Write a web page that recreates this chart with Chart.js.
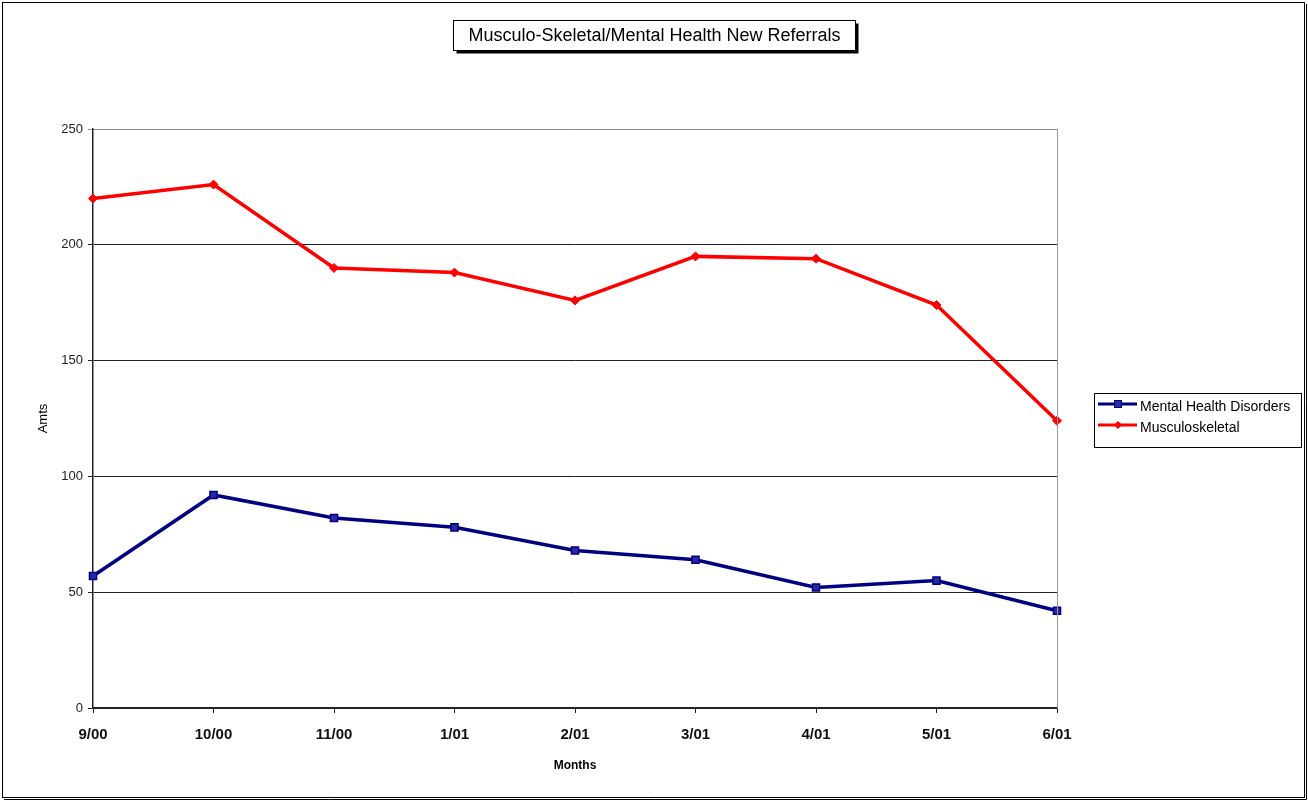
<!DOCTYPE html>
<html>
<head>
<meta charset="utf-8">
<title>Musculo-Skeletal/Mental Health New Referrals</title>
<script src="https://cdn.jsdelivr.net/npm/chart.js@4.4.1/dist/chart.umd.min.js"></script>
<style>
  html, body { margin: 0; padding: 0; background: #fff; }
  #wrap { width: 1308px; height: 801px; }
</style>
</head>
<body>
<div id="wrap"><canvas id="referralChart" width="1308" height="801"></canvas></div>
<script>
// Chart values
const chartTitle = 'Musculo-Skeletal/Mental Health New Referrals';
const months = ['9/00', '10/00', '11/00', '1/01', '2/01', '3/01', '4/01', '5/01', '6/01'];
const mentalHealth = [57, 92, 82, 78, 68, 64, 52, 55, 42];
const musculoskeletal = [220, 226, 190, 188, 176, 195, 194, 174, 124];
const yTicks = [0, 50, 100, 150, 200, 250];

const FONT = '"Liberation Sans", Arial, sans-serif';

// Draws the outer frame, the boxed title, the plot frame and the legend box
const decorations = {
  id: 'decorations',
  beforeDraw(chart) {
    const ctx = chart.ctx;
    ctx.save();
    ctx.fillStyle = '#fff';
    ctx.fillRect(0, 0, chart.width, chart.height);
    ctx.restore();
  },
  afterDraw(chart) {
    const ctx = chart.ctx;
    const area = chart.chartArea;
    ctx.save();

    // outer frame with a thin shadow
    ctx.strokeStyle = '#000';
    ctx.lineWidth = 1;
    ctx.strokeRect(2.5, 2.5, 1302, 795);
    ctx.beginPath();
    ctx.moveTo(4, 799.5);
    ctx.lineTo(1306.5, 799.5);
    ctx.lineTo(1306.5, 4);
    ctx.stroke();

    // right border of the plot area
    ctx.strokeStyle = '#9a9a9a';
    ctx.beginPath();
    ctx.moveTo(Math.round(area.right) + 0.5, area.top);
    ctx.lineTo(Math.round(area.right) + 0.5, area.bottom);
    ctx.stroke();

    // boxed title with drop shadow
    ctx.font = '18px ' + FONT;
    const tw = ctx.measureText(chartTitle).width;
    const bw = Math.max(tw + 12, 402), bh = 30;
    const bx = Math.round(654 - bw / 2) + 0.5, by = 20.5;
    ctx.fillStyle = '#000';
    ctx.fillRect(bx + 3, by + 3, bw, bh);
    ctx.fillStyle = '#fff';
    ctx.fillRect(bx, by, bw, bh);
    ctx.strokeStyle = '#000';
    ctx.strokeRect(bx, by, bw, bh);
    ctx.fillStyle = '#000';
    ctx.textAlign = 'center';
    ctx.textBaseline = 'middle';
    ctx.fillText(chartTitle, bx + bw / 2, by + bh / 2 + 1);

    // legend box built from the datasets
    const lx = 1094.5, ly = 393.5, lw = 207, lh = 54;
    ctx.fillStyle = '#fff';
    ctx.fillRect(lx, ly, lw, lh);
    ctx.strokeStyle = '#000';
    ctx.strokeRect(lx, ly, lw, lh);
    ctx.font = '14px ' + FONT;
    ctx.textAlign = 'left';
    chart.data.datasets.forEach((ds, i) => {
      const y = 404 + i * 21;
      ctx.strokeStyle = ds.borderColor;
      ctx.lineWidth = 3;
      ctx.beginPath();
      ctx.moveTo(1098, y);
      ctx.lineTo(1137, y);
      ctx.stroke();
      ctx.fillStyle = ds.pointBackgroundColor;
      ctx.strokeStyle = ds.borderColor;
      ctx.lineWidth = 1;
      if (ds.pointStyle === 'rect') {
        ctx.fillRect(1114, y - 4, 8, 8);
        ctx.strokeRect(1114.5, y - 3.5, 7, 7);
      } else {
        ctx.beginPath();
        ctx.moveTo(1118, y - 4);
        ctx.lineTo(1122, y);
        ctx.lineTo(1118, y + 4);
        ctx.lineTo(1114, y);
        ctx.closePath();
        ctx.fill();
      }
      ctx.fillStyle = '#000';
      ctx.fillText(ds.label, 1140, y + 3);
    });

    ctx.restore();
  }
};

const ctx = document.getElementById('referralChart').getContext('2d');
const referralChart = new Chart(ctx, {
  type: 'line',
  data: {
    labels: months,
    datasets: [
      {
        label: 'Mental Health Disorders',
        data: mentalHealth,
        borderColor: '#000080',
        backgroundColor: '#000080',
        pointBackgroundColor: '#2a2aa0',
        pointBorderColor: '#000080',
        borderWidth: 3.5,
        pointStyle: 'rect',
        pointRadius: 5,
        pointBorderWidth: 1.5,
        tension: 0
      },
      {
        label: 'Musculoskeletal',
        data: musculoskeletal,
        borderColor: '#ff0000',
        backgroundColor: '#ff0000',
        pointBackgroundColor: '#ff0000',
        pointBorderColor: '#ff0000',
        borderWidth: 3.5,
        pointStyle: 'rectRot',
        pointRadius: 4.5,
        pointBorderWidth: 1,
        tension: 0
      }
    ]
  },
  options: {
    responsive: false,
    animation: false,
    devicePixelRatio: 1,
    layout: { padding: { left: 0, top: 129, right: 251, bottom: 0 } },
    plugins: {
      legend: { display: false },
      title: { display: false },
      tooltip: { enabled: false }
    },
    scales: {
      x: {
        offset: false,
        grid: { drawOnChartArea: false, drawTicks: true, tickLength: 5, color: '#222' },
        border: { color: '#222', width: 1.5 },
        ticks: {
          color: '#111',
          padding: 13,
          maxRotation: 0,
          autoSkip: false,
          font: { family: FONT, size: 15, weight: 'bold' }
        },
        title: {
          display: true,
          text: 'Months',
          color: '#000',
          padding: { top: 0, bottom: 28 },
          font: { family: FONT, size: 12, weight: 'bold' }
        },
        afterFit(scale) { scale.height = 93; }
      },
      y: {
        min: 0,
        max: 250,
        afterBuildTicks(scale) { scale.ticks = yTicks.map(v => ({ value: v })); },
        grid: {
          color: c => (c.tick && c.tick.value === 250 ? '#888' : '#222'),
          tickLength: 5,
          lineWidth: 1
        },
        border: { color: '#222', width: 1.5 },
        ticks: {
          color: '#222',
          padding: 5,
          font: { family: FONT, size: 13 }
        },
        title: {
          display: true,
          text: 'Amts',
          color: '#000',
          padding: { top: 36, bottom: 0 },
          font: { family: FONT, size: 13 }
        },
        afterFit(scale) { scale.width = 93; }
      }
    }
  },
  plugins: [decorations]
});
</script>
</body>
</html>
